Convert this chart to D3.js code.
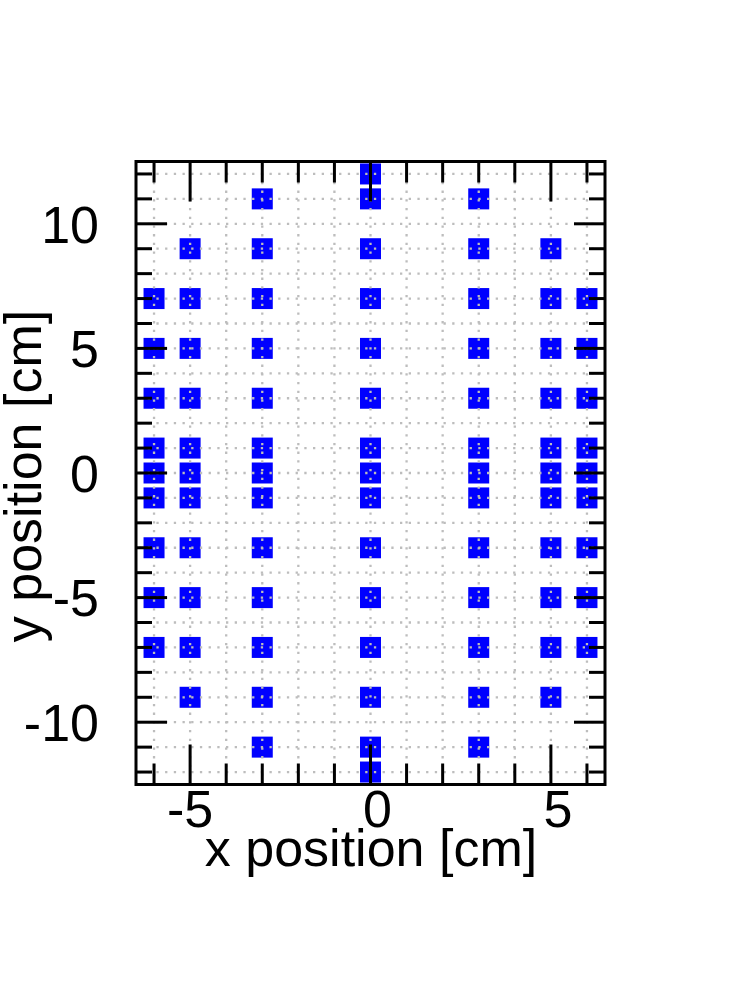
<!doctype html>
<html>
  <head>
    <meta charset="utf-8">
    <title>Detector positions</title>
    <script src="https://cdnjs.cloudflare.com/ajax/libs/d3/7.8.5/d3.min.js"></script>
    <style>
      body { margin: 0; background: #fff; }
      text { font-family: "Liberation Sans", Arial, sans-serif; fill: #000; }
    </style>
  </head>
  <body>
    <div id="my-svg-chart"></div>

    <script>
      // column x positions and the y rows filled in each column
      const columnX = [-6, -5, -3, 0, 3, 5, 6];
      const rowsOuter = [7, 5, 3, 1, 0, -1, -3, -5, -7];             // x = -6, 6
      const rowsMid = [9, 7, 5, 3, 1, 0, -1, -3, -5, -7, -9];        // x = -5, 5
      const rowsInner = [11, 9, 7, 5, 3, 1, 0, -1, -3, -5, -7, -9, -11]; // x = -3, 3
      const rowsCenter = [12, 11, 9, 7, 5, 3, 1, 0, -1, -3, -5, -7, -9, -11, -12]; // x = 0
      const columnRows = [rowsOuter, rowsMid, rowsInner, rowsCenter, rowsInner, rowsMid, rowsOuter];

      const xTickLabels = [-5, 0, 5];
      const yTickLabels = [-10, -5, 0, 5, 10];
      const xTicks = d3.range(-6, 7);
      const yTicks = d3.range(-12, 13);

      const points = [];
      columnX.forEach((cx, i) => columnRows[i].forEach(cy => points.push({x: cx, y: cy})));

      const W = 740, H = 1005, fs = 52;
      const x = d3.scaleLinear().domain([-6.5, 6.5]).range([136, 605]);
      const y = d3.scaleLinear().domain([-12.5, 12.5]).range([784.5, 161.5]);

      const svg = d3.select('#my-svg-chart').append('svg')
        .attr('width', W).attr('height', H);

      // markers
      svg.append('g').selectAll('rect')
        .data(points)
        .join('rect')
        .attr('x', d => x(d.x) - 10.5)
        .attr('y', d => y(d.y) - 10.5)
        .attr('width', 21)
        .attr('height', 21)
        .style('fill', '#0000ff');

      // dotted grid, drawn over the markers
      const grid = svg.append('g')
        .style('stroke', '#bdbdbd')
        .style('stroke-width', 2.3)
        .style('stroke-dasharray', '2.3 6.4');
      grid.selectAll('.gx').data(xTicks).join('line').attr('class', 'gx')
        .attr('x1', d => x(d)).attr('x2', d => x(d))
        .attr('y1', y.range()[1] + 3).attr('y2', y.range()[0]);
      grid.selectAll('.gy').data(yTicks).join('line').attr('class', 'gy')
        .attr('y1', d => y(d)).attr('y2', d => y(d))
        .attr('x1', x.range()[0] + 3).attr('x2', x.range()[1]);

      // ticks on all four sides
      const ticks = svg.append('g').style('stroke', '#000').style('stroke-width', 3);
      const xLen = d => d % 5 === 0 ? 40 : 21;
      const yLen = d => d % 5 === 0 ? 31 : 16;
      ticks.selectAll('.tb').data(xTicks).join('line').attr('class', 'tb')
        .attr('x1', d => x(d)).attr('x2', d => x(d))
        .attr('y1', y.range()[0]).attr('y2', d => y.range()[0] - xLen(d));
      ticks.selectAll('.tt').data(xTicks).join('line').attr('class', 'tt')
        .attr('x1', d => x(d)).attr('x2', d => x(d))
        .attr('y1', y.range()[1]).attr('y2', d => y.range()[1] + xLen(d));
      ticks.selectAll('.tl').data(yTicks).join('line').attr('class', 'tl')
        .attr('y1', d => y(d)).attr('y2', d => y(d))
        .attr('x1', x.range()[0]).attr('x2', d => x.range()[0] + yLen(d));
      ticks.selectAll('.tr').data(yTicks).join('line').attr('class', 'tr')
        .attr('y1', d => y(d)).attr('y2', d => y(d))
        .attr('x1', x.range()[1]).attr('x2', d => x.range()[1] - yLen(d));

      // frame
      svg.append('rect')
        .attr('x', x.range()[0]).attr('y', y.range()[1])
        .attr('width', x.range()[1] - x.range()[0])
        .attr('height', y.range()[0] - y.range()[1])
        .style('fill', 'none').style('stroke', '#000').style('stroke-width', 3);

      // tick labels
      svg.selectAll('.xl').data(xTickLabels).join('text').attr('class', 'xl')
        .attr('x', d => x(d) + (d < 0 ? 0 : 7))
        .attr('y', 827)
        .style('font-size', fs + 'px')
        .style('text-anchor', 'middle')
        .text(d => d);
      svg.selectAll('.yl').data(yTickLabels).join('text').attr('class', 'yl')
        .attr('x', 99)
        .attr('y', d => y(d) + fs * 0.36)
        .style('font-size', fs + 'px')
        .style('text-anchor', 'end')
        .text(d => d);

      // axis titles
      svg.append('text')
        .attr('x', 371).attr('y', 866)
        .style('font-size', fs + 'px')
        .style('text-anchor', 'middle')
        .text('x position [cm]');
      svg.append('text')
        .attr('transform', 'translate(41,476) rotate(-90)')
        .style('font-size', fs + 'px')
        .style('text-anchor', 'middle')
        .text('y position [cm]');
    </script>
  </body>
</html>
